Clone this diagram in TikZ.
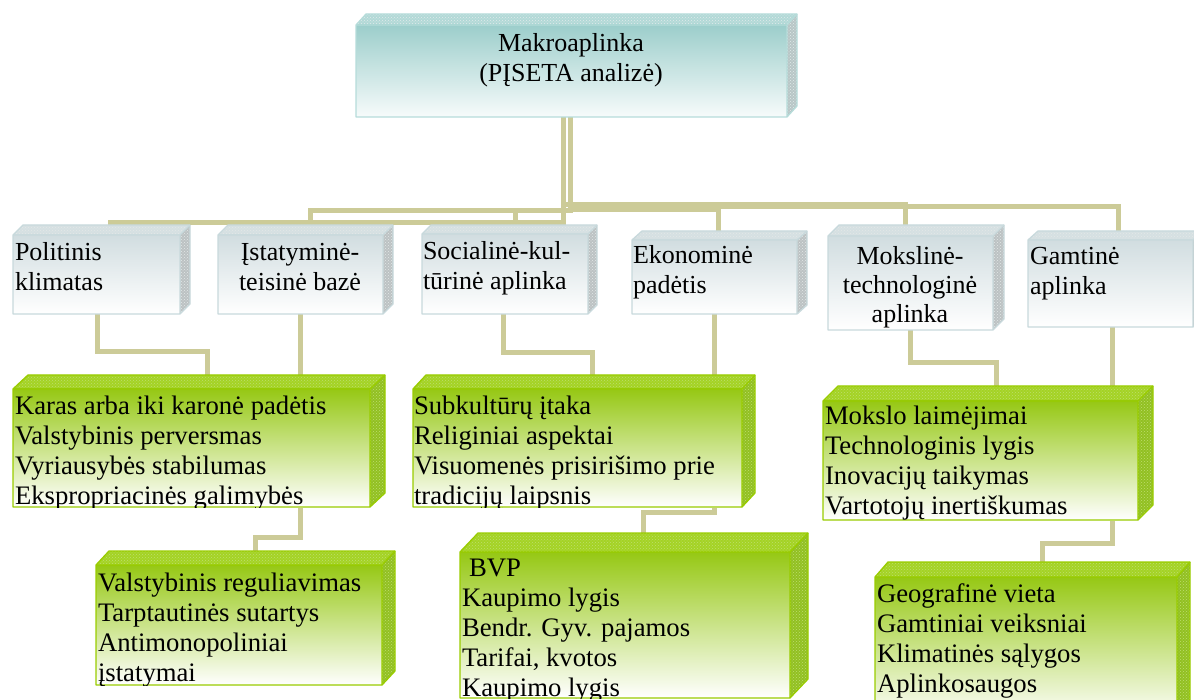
\documentclass[tikz,border=0pt]{standalone}
\usepackage{fontspec}
\setmainfont{Liberation Serif}
\usetikzlibrary{calc,fit,patterns}

% connector colour
\definecolor{conncol}{RGB}{204,203,152}
% teal box (top level)
\definecolor{tealtop}{RGB}{156,206,203}
\definecolor{tealbot}{RGB}{247,251,251}
\definecolor{tealface}{RGB}{178,217,215}
\definecolor{tealside}{RGB}{184,198,198}
\definecolor{tealdots}{RGB}{225,235,235}
\definecolor{tealline}{RGB}{182,220,218}
% grey boxes (factor groups)
\definecolor{graytop}{RGB}{209,221,224}
\definecolor{graybot}{RGB}{255,255,255}
\definecolor{grayface}{RGB}{213,224,226}
\definecolor{grayside}{RGB}{188,194,195}
\definecolor{graydots}{RGB}{228,232,232}
\definecolor{grayline}{RGB}{200,217,220}
% green boxes (factor lists)
\definecolor{greentop}{RGB}{150,200,20}
\definecolor{greenbot}{RGB}{255,255,255}
\definecolor{greenface}{RGB}{164,211,36}
\definecolor{greenside}{RGB}{146,192,34}
\definecolor{greendots}{RGB}{190,222,110}
\definecolor{greenline}{RGB}{153,204,0}

\tikzset{
  conn/.style={draw=conncol, line width=5pt, line join=miter},
  face/.style={inner sep=0pt, outer sep=0pt},
  txt/.style={inner sep=0pt, outer sep=0pt, font=\fontsize{26}{30}\selectfont, align=left},
  ctxt/.style={txt, align=center},
  ltxt/.style={txt, font=\fontsize{26.7}{30}\selectfont},
}

% a box with a top face and a right side face; #1 node, #2/#3 depth, #4 colour scheme
\newcommand\cubebox[4]{%
  \fill[#4face] (#1.north west) -- ++(#2,-#3) -- ($(#1.north east)+(#2,-#3)$) -- (#1.north east) -- cycle;
  \fill[pattern=crosshatch dots, pattern color=#4dots] (#1.north west) -- ++(#2,-#3) -- ($(#1.north east)+(#2,-#3)$) -- (#1.north east) -- cycle;
  \fill[#4side] (#1.north east) -- ++(#2,-#3) -- ($(#1.south east)+(#2,-#3)$) -- (#1.south east) -- cycle;
  \fill[pattern=crosshatch dots, pattern color=#4dots] (#1.north east) -- ++(#2,-#3) -- ($(#1.south east)+(#2,-#3)$) -- (#1.south east) -- cycle;
  \shade[top color=#4top, bottom color=#4bot] (#1.north west) rectangle (#1.south east);
  \draw[#4line, line width=1.3pt, line join=round] (#1.north west) -- ++(#2,-#3) -- ($(#1.north east)+(#2,-#3)$) -- ($(#1.south east)+(#2,-#3)$) -- (#1.south east) -- (#1.south west) -- cycle;
  \draw[#4line, line width=1.3pt] (#1.north west) -- (#1.north east) -- ++(#2,-#3) (#1.north east) -- (#1.south east);
}

\begin{document}
\begin{tikzpicture}[x=1pt,y=-1pt]
\useasboundingbox (0,0) rectangle (1194,700);
\clip (0,0) rectangle (1194,700);

% front faces
\node[face, fit={(356,25) (787,117)}] (macro) {};
\node[face, fit={(13,235) (180,314)}] (pol) {};
\node[face, fit={(218,235) (383,314)}] (ist) {};
\node[face, fit={(422,234) (588,314)}] (soc) {};
\node[face, fit={(632,240) (797,314)}] (eko) {};
\node[face, fit={(828,236) (993,330)}] (mok) {};
\node[face, fit={(1028,240) (1193,327)}] (gam) {};
\node[face, fit={(13,389) (370,507)}] (gA) {};
\node[face, fit={(413,389) (742,507)}] (gB) {};
\node[face, fit={(823,401) (1138,520)}] (gC) {};
\node[face, fit={(96,565) (382,685)}] (gD) {};
\node[face, fit={(460,552) (790,698)}] (gE) {};
\node[face, fit={(875,577) (1177,720)}] (gF) {};

% connectors from the top box
\draw[conn] (563,0 |- macro.south) -- (563,223) -- (110,223) -- (110,0 |- pol.north);
\draw[conn] (570,0 |- macro.south) -- (570,211) -- (310,211) -- (310,0 |- ist.north);
\draw[conn] (570,0 |- macro.south) -- (570,211) -- (515,211) -- (515,0 |- soc.north);
\draw[conn] (570,0 |- macro.south) -- (570,210) -- (718,210) -- (718,0 |- eko.north);
\draw[conn] (563,0 |- macro.south) -- (563,205) -- (905,205) -- (905,0 |- mok.north);
\draw[conn] (570,0 |- macro.south) -- (570,207) -- (1118,207) -- (1118,0 |- gam.north);

% connectors to the factor lists
\draw[conn] (97,0 |- pol.south) -- (97,352) -- (207,352) -- (207,0 |- gA.north);
\draw[conn] (300,0 |- ist.south) -- (300,537) -- (255,537) -- (255,0 |- gD.north);
\draw[conn] (503,0 |- soc.south) -- (503,353) -- (592,353) -- (592,0 |- gB.north);
\draw[conn] (714,0 |- eko.south) -- (714,512) -- (643,512) -- (643,0 |- gE.north);
\draw[conn] (910,0 |- mok.south) -- (910,363) -- (996,363) -- (996,0 |- gC.north);
\draw[conn] (1112,0 |- gam.south) -- (1112,543) -- (1042,543) -- (1042,0 |- gF.north);

% boxes
\cubebox{macro}{10}{11}{teal}
\cubebox{pol}{10}{10}{gray}
\cubebox{ist}{10}{10}{gray}
\cubebox{soc}{9}{9}{gray}
\cubebox{eko}{10}{9}{gray}
\cubebox{mok}{11}{11}{gray}
\cubebox{gam}{10}{9}{gray}
\cubebox{gA}{15}{14}{green}
\cubebox{gB}{13}{14}{green}
\cubebox{gC}{15}{15}{green}
\cubebox{gD}{13}{14}{green}
\cubebox{gE}{18}{19}{green}
\cubebox{gF}{13}{15}{green}

% labels (anchored at the baseline of their last line)
\node[ctxt, anchor=base] (macrotxt) at (571,82) {Makroaplinka\\(PĮSETA analizė)};
\node[txt, anchor=base west] (poltxt) at (15,291) {Politinis\\klimatas};
\node[ctxt, anchor=base] (isttxt) at (300,291) {Įstatyminė-\\teisinė bazė};
\node[txt, anchor=base west] (soctxt) at (423,290) {Socialinė-kul-\\tūrinė aplinka};
\node[txt, anchor=base west] (ekotxt) at (633,294) {Ekonominė\\padėtis};
\node[ctxt, anchor=base, font=\fontsize{26}{29}\selectfont] (moktxt) at (910,323) {Mokslinė-\\technologinė\\aplinka};
\node[txt, anchor=base west] (gamtxt) at (1030,295) {Gamtinė\\aplinka};

\begin{scope}
  \clip (gA.north west) rectangle (gA.south east);
  \node[ltxt, anchor=base west] (gAtxt) at (15,504) {Karas arba iki karonė padėtis\\Valstybinis perversmas\\Vyriausybės stabilumas\\Ekspropriacinės galimybės};
\end{scope}
\begin{scope}
  \clip (gB.north west) rectangle (gB.south east);
  \node[ltxt, anchor=base west] (gBtxt) at (414,504) {Subkultūrų įtaka\\Religiniai aspektai\\Visuomenės prisirišimo prie\\tradicijų laipsnis};
\end{scope}
\begin{scope}
  \clip (gC.north west) rectangle (gC.south east);
  \node[ltxt, anchor=base west] (gCtxt) at (825,514) {Mokslo laimėjimai\\Technologinis lygis\\Inovacijų taikymas\\Vartotojų inertiškumas};
\end{scope}
\begin{scope}
  \clip (gD.north west) rectangle (gD.south east);
  \node[ltxt, anchor=base west] (gDtxt) at (98,681) {Valstybinis reguliavimas\\Tarptautinės sutartys\\Antimonopoliniai\\įstatymai};
\end{scope}
\begin{scope}
  \clip (gE.north west) rectangle (gE.south east);
  \node[ltxt, anchor=base west] (gEtxt) at (462,696) {\hspace*{7pt}BVP\\Kaupimo lygis\\Bendr. Gyv. pajamos\\Tarifai, kvotos\\Kaupimo lygis};
\end{scope}
\begin{scope}
  \clip (gF.north west) rectangle (gF.south east);
  \node[ltxt, anchor=base west] (gFtxt) at (877,692) {Geografinė vieta\\Gamtiniai veiksniai\\Klimatinės sąlygos\\Aplinkosaugos};
\end{scope}
\end{tikzpicture}
\end{document}
